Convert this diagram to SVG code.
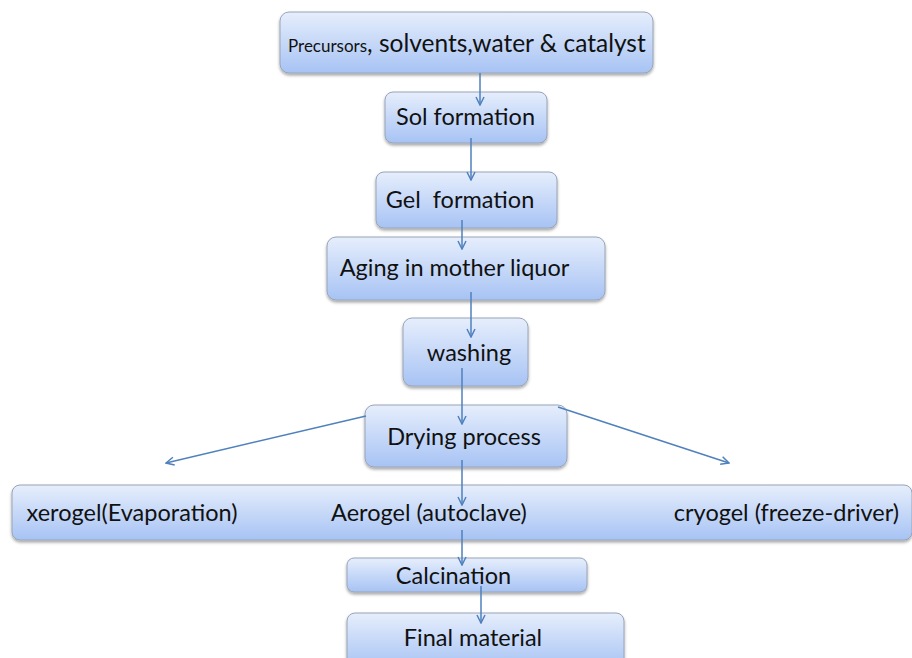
<svg xmlns="http://www.w3.org/2000/svg" width="912" height="658" viewBox="0 0 912 658">
<defs>
<linearGradient id="g" x1="0" y1="0" x2="0" y2="1">
<stop offset="0" stop-color="#e6eefc"/>
<stop offset="1" stop-color="#a7c3f4"/>
</linearGradient>
<filter id="sh" x="-10%" y="-20%" width="120%" height="150%">
<feDropShadow dx="0" dy="2" stdDeviation="1.8" flood-color="#000" flood-opacity="0.35"/>
</filter>
<marker id="ah" viewBox="0 0 10 10" refX="9" refY="5" markerWidth="10" markerHeight="10" markerUnits="userSpaceOnUse" orient="auto">
<path d="M1,1 L9,5 L1,9" fill="none" stroke="#4f81bd" stroke-width="1.5"/>
</marker>
</defs>
<style>
.box{fill:url(#g);stroke:#98a4b6;stroke-width:1;filter:url(#sh)}
.t{font-family:Lato,"Open Sans","Liberation Sans",sans-serif;font-size:23.5px;fill:#111;text-anchor:middle}
.c{stroke:#4f81bd;stroke-width:1.5;fill:none;marker-end:url(#ah)}
</style>
<rect width="912" height="658" fill="#fff"/>
<g id="n1"><rect class="box" x="280" y="12" width="373" height="61" rx="9"/>
<text class="t" x="288" y="52" style="text-anchor:start"><tspan font-size="17">Precursors</tspan><tspan font-size="24.5">, solvents,water &amp; catalyst</tspan></text></g>
<g id="n2"><rect class="box" x="385" y="92" width="162" height="51" rx="8"/>
<text class="t" x="465.5" y="125">Sol formation</text></g>
<g id="n3"><rect class="box" x="376" y="172" width="181" height="56" rx="8"/>
<text class="t" x="460" y="208" xml:space="preserve">Gel  formation</text></g>
<g id="n4"><rect class="box" x="327" y="237" width="278" height="63" rx="9"/>
<text class="t" x="454.5" y="276">Aging in mother liquor</text></g>
<g id="n5"><rect class="box" x="403" y="318" width="125" height="68" rx="9"/>
<text class="t" x="469" y="361">washing</text></g>
<g id="n6"><rect class="box" x="365" y="405" width="202" height="62" rx="9"/>
<text class="t" x="464" y="445">Drying process</text></g>
<g id="n7"><rect class="box" x="12" y="485" width="900" height="55" rx="8"/>
<text class="t" x="132" y="521">xerogel(Evaporation)</text>
<text class="t" x="429" y="521">Aerogel (autoclave)</text>
<text class="t" x="786.5" y="521">cryogel (freeze-driver)</text></g>
<g id="n8"><rect class="box" x="347" y="558" width="240" height="34" rx="7"/>
<text class="t" x="453.5" y="584">Calcination</text></g>
<g id="n9"><rect class="box" x="347" y="613" width="277" height="55" rx="8"/>
<text class="t" x="473" y="646">Final material</text></g>
<g id="connectors">
<line class="c" x1="480" y1="73" x2="480" y2="105"/>
<line class="c" x1="471" y1="138" x2="471" y2="180"/>
<line class="c" x1="462" y1="220" x2="462" y2="249"/>
<line class="c" x1="471" y1="292" x2="471" y2="337"/>
<line class="c" x1="462" y1="368" x2="462" y2="424"/>
<line class="c" x1="366" y1="416" x2="166" y2="463"/>
<line class="c" x1="558" y1="407" x2="729" y2="463"/>
<line class="c" x1="462" y1="460" x2="462" y2="505"/>
<line class="c" x1="462" y1="530" x2="462" y2="565"/>
<line class="c" x1="481" y1="586" x2="481" y2="623"/>
</g>
</svg>
